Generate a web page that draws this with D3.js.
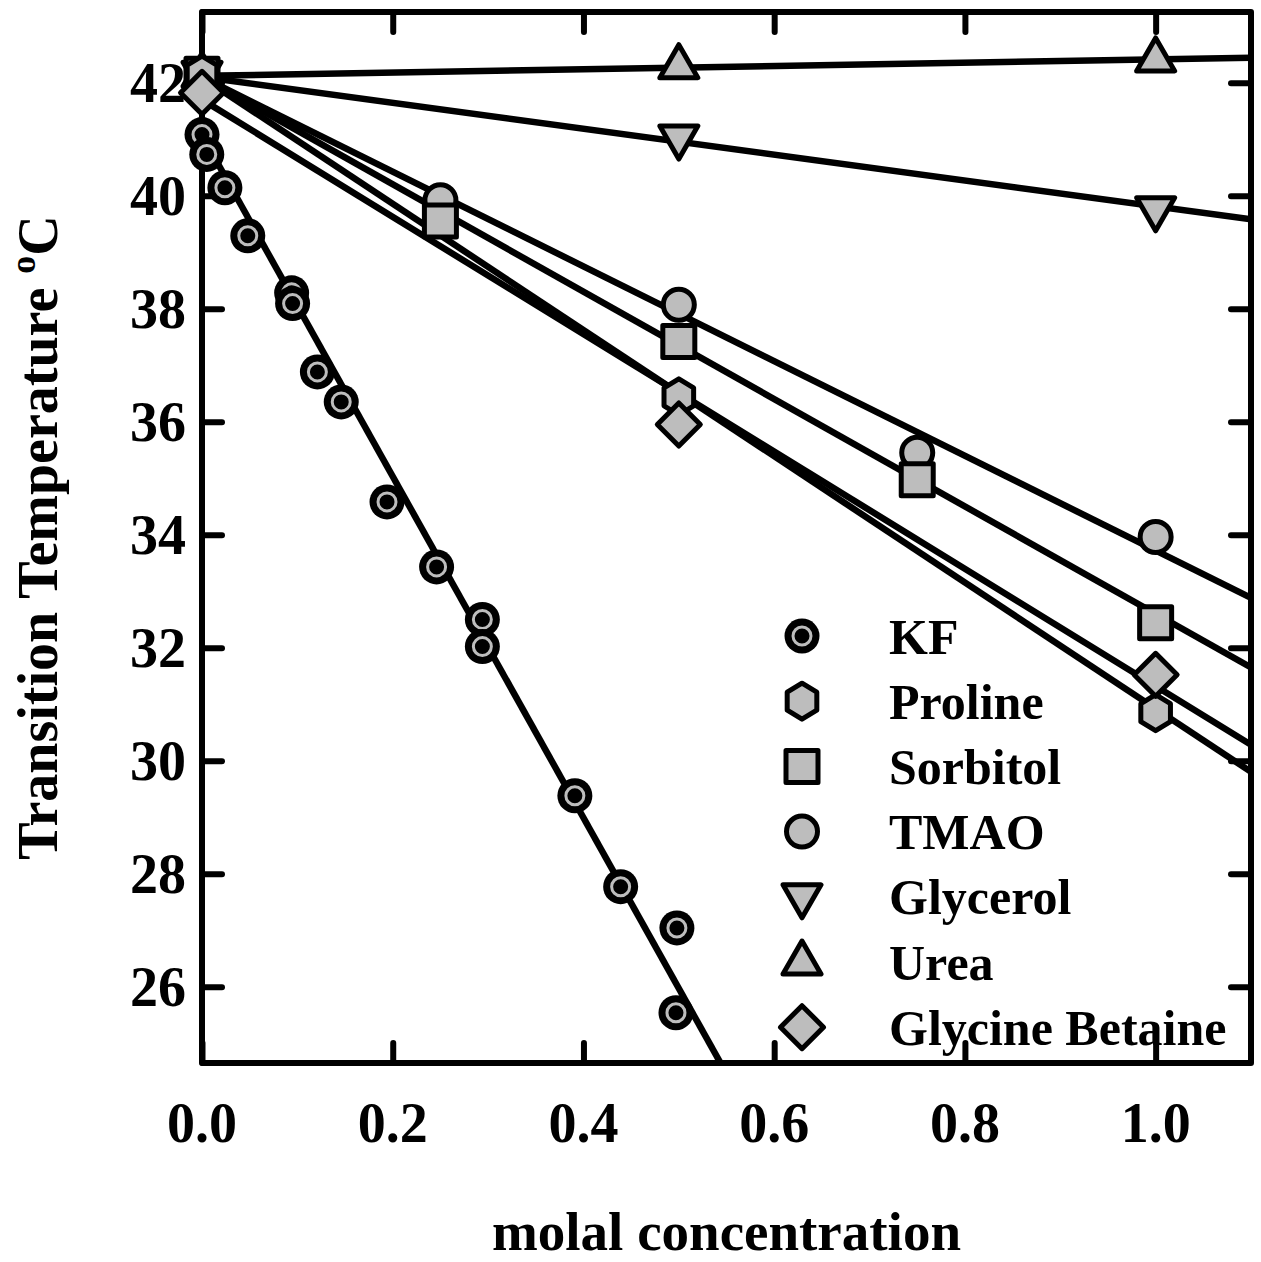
<!DOCTYPE html>
<html>
<head>
<meta charset="utf-8">
<script src="https://cdn.jsdelivr.net/npm/d3@7"></script>
<style>
html,body{margin:0;padding:0;background:#fff;}
text{font-family:"Liberation Serif","Times New Roman",serif;font-weight:bold;fill:#000;}
</style>
</head>
<body>
<svg id="chart" width="1261" height="1262"></svg>
<script>
// ---- data ----
const categories = ["KF","Proline","Sorbitol","TMAO","Glycerol","Urea","Glycine Betaine"];
const symbols = ["kf","hexagon","square","circle","triangleDown","triangleUp","diamond"];

const kfConc = [0.0, 0.005, 0.024, 0.048, 0.094, 0.095, 0.121, 0.146, 0.194, 0.246, 0.294, 0.294, 0.391, 0.439, 0.498, 0.497];
const kfTemp = [41.08, 40.73, 40.14, 39.29, 38.28, 38.09, 36.88, 36.35, 34.58, 33.43, 32.50, 32.02, 29.38, 27.77, 27.04, 25.54];

const prolineConc = [0, 0.5, 1.0];
const prolineTemp = [42.15, 36.44, 30.85];

const sorbitolConc = [0, 0.25, 0.5, 0.75, 1.0];
const sorbitolTemp = [42.15, 39.55, 37.42, 34.97, 32.44];

const tmaoConc = [0, 0.25, 0.5, 0.75, 1.0];
const tmaoTemp = [42.15, 39.92, 38.07, 35.45, 33.96];

const glycerolConc = [0, 0.5, 1.0];
const glycerolTemp = [42.15, 41.02, 39.75];

const ureaConc = [0, 0.5, 1.0];
const ureaTemp = [42.15, 42.30, 42.42];

const betaineConc = [0, 0.5, 1.0];
const betaineTemp = [41.82, 35.95, 31.52];

// linear fits (intercept, slope) per category
const fitIntercept = [41.07, 42.09, 42.10, 42.10, 42.10, 42.12, 41.70];
const fitSlope     = [-30.2, -11.17, -9.50, -8.38, -2.29, 0.29, -10.38];

const xTicks = [0.0, 0.2, 0.4, 0.6, 0.8, 1.0];
const yTicks = [26, 28, 30, 32, 34, 36, 38, 40, 42];

const seriesConc = [kfConc, prolineConc, sorbitolConc, tmaoConc, glycerolConc, ureaConc, betaineConc];
const seriesTemp = [kfTemp, prolineTemp, sorbitolTemp, tmaoTemp, glycerolTemp, ureaTemp, betaineTemp];

// ---- layout ----
const L = 202, R = 1251, T = 12, B = 1063;
const x = d3.scaleLinear().domain([0, 1.1]).range([L, R]);
const y = d3.scaleLinear().domain([24.65, 43.25]).range([B, T]);

const svg = d3.select("#chart");
const FILL = "#bdbdbd";
const SW = 5;

svg.append("defs").append("clipPath").attr("id","clip")
  .append("rect").attr("x",L).attr("y",T).attr("width",R-L).attr("height",B-T);

// axes with inward ticks
const tickLen = 20;
const gx = svg.append("g").attr("transform",`translate(0,${B})`)
  .call(d3.axisTop(x).tickValues(xTicks).tickSize(tickLen).tickFormat(""));
const gxt = svg.append("g").attr("transform",`translate(0,${T})`)
  .call(d3.axisBottom(x).tickValues(xTicks).tickSize(tickLen).tickFormat(""));
const gy = svg.append("g").attr("transform",`translate(${L},0)`)
  .call(d3.axisRight(y).tickValues(yTicks).tickSize(tickLen).tickFormat(""));
const gyr = svg.append("g").attr("transform",`translate(${R},0)`)
  .call(d3.axisLeft(y).tickValues(yTicks).tickSize(tickLen).tickFormat(""));
[gx,gxt,gy,gyr].forEach(g=>{
  g.select(".domain").remove();
  g.selectAll(".tick line").attr("stroke","#000").attr("stroke-width",6).attr("stroke-linecap","round");
});

// tick labels
svg.append("g").selectAll("text").data(xTicks).join("text")
  .attr("x",d=>x(d)).attr("y",1142).attr("text-anchor","middle")
  .attr("font-size",56).text(d=>d.toFixed(1));
svg.append("g").selectAll("text").data(yTicks).join("text")
  .attr("x",186).attr("y",d=>y(d)).attr("dy","0.35em").attr("text-anchor","end")
  .attr("font-size",56).text(d=>d);

// frame
svg.append("rect").attr("x",L).attr("y",T).attr("width",R-L).attr("height",B-T)
  .attr("fill","none").attr("stroke","#000").attr("stroke-width",6).attr("stroke-linejoin","round");

// fit lines
const lineG = svg.append("g").attr("clip-path","url(#clip)");
categories.forEach((c,i)=>{
  const xs = [0, 1.1];
  lineG.append("path")
    .attr("d", d3.line().x(d=>x(d)).y(d=>y(fitIntercept[i]+fitSlope[i]*d))(xs))
    .attr("fill","none").attr("stroke","#000").attr("stroke-width",6.5);
});

// markers
function drawMarker(g, type, cx, cy){
  const gg = g.append("g").attr("transform",`translate(${cx},${cy})`);
  const st = {stroke:"#000","stroke-width":SW,"stroke-linejoin":"round",fill:FILL};
  const apply = sel => { Object.entries(st).forEach(([k,v])=>sel.attr(k,v)); return sel; };
  if(type==="kf"){
    gg.append("circle").attr("r",17.5).attr("fill","#000");
    gg.append("circle").attr("r",9).attr("fill","#000").attr("stroke",FILL).attr("stroke-width",3);
  } else if(type==="circle"){
    apply(gg.append("circle").attr("r",15.5));
  } else if(type==="square"){
    apply(gg.append("rect").attr("x",-16).attr("y",-16).attr("width",32).attr("height",32));
  } else if(type==="hexagon"){
    const r=18;
    const pts=d3.range(6).map(k=>{const a=-Math.PI/2+k*Math.PI/3;return [r*Math.cos(a)*0.95, r*Math.sin(a)];});
    apply(gg.append("polygon").attr("points",pts.map(p=>p.join(",")).join(" ")));
  } else if(type==="triangleUp"){
    apply(gg.append("polygon").attr("points","0,-21 19,12 -19,12"));
  } else if(type==="triangleDown"){
    apply(gg.append("polygon").attr("points","0,21 19,-12 -19,-12"));
  } else if(type==="diamond"){
    apply(gg.append("polygon").attr("points","0,-21.5 21.5,0 0,21.5 -21.5,0"));
  }
}

const markG = svg.append("g");
const order = [4,5,3,2,1,6,0];
order.forEach(i=>{
  seriesConc[i].forEach((c,j)=>drawMarker(markG, symbols[i], x(c), y(seriesTemp[i][j])));
});

// legend
const legY0 = 636, legDy = 65.2;
const leg = svg.append("g");
categories.forEach((c,i)=>{
  drawMarker(leg, symbols[i], 802, legY0 + i*legDy);
  leg.append("text").attr("x",889).attr("y",legY0 + i*legDy).attr("dy","0.35em")
    .attr("font-size",50).text(c);
});

// axis titles
svg.append("text").attr("x",(L+R)/2).attr("y",1250).attr("text-anchor","middle")
  .attr("font-size",55).text("molal concentration");
const yt = svg.append("text").attr("transform",`translate(57,${(T+B)/2}) rotate(-90)`)
  .attr("text-anchor","middle").attr("font-size",56);
yt.append("tspan").text("Transition Temperature ");
yt.append("tspan").attr("font-size",36).attr("dy",-22).text("o");
yt.append("tspan").attr("dy",22).text("C");
</script>
</body>
</html>
